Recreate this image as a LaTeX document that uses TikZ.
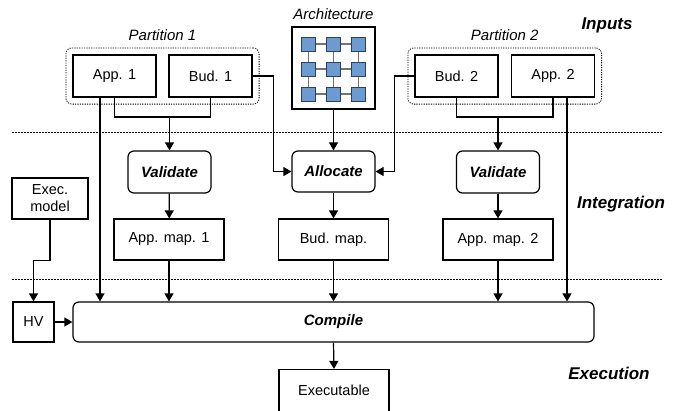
\documentclass[tikz,border=0pt]{standalone}
\usepackage{fontspec}
\setmainfont{Liberation Sans}
\usetikzlibrary{arrows.meta,positioning,fit}
\definecolor{coreblue}{RGB}{108,155,210}
\definecolor{coreedge}{RGB}{45,65,95}
\definecolor{linkgray}{RGB}{115,115,115}

\begin{document}
\begin{tikzpicture}[x=1pt,y=-1pt,
  font=\fontsize{14.5}{17}\selectfont,
  line width=1.2pt,
  box/.style={draw,minimum width=83pt,minimum height=42pt,inner sep=0pt},
  mapbox/.style={box,minimum width=110pt,minimum height=41pt},
  task/.style={box,rounded corners=6pt,font=\fontsize{15}{17}\selectfont\bfseries\itshape},
  part/.style={draw,dash pattern=on 1.2pt off 1.2pt,line width=0.8pt,rounded corners=6pt,inner sep=6.5pt},
  plabel/.style={font=\fontsize{15}{17}\selectfont\itshape,inner sep=2pt},
  phase/.style={font=\fontsize{17}{20}\selectfont\bfseries\itshape},
  sep/.style={line width=0.8pt,dash pattern=on 1.5pt off 1.5pt},
  arr/.style={-{Triangle[length=8pt,width=9pt]}},
  core/.style={draw=coreedge,fill=coreblue,line width=1pt,minimum size=14pt,inner sep=0pt},
  link/.style={draw=linkgray,line width=1.6pt}]
\useasboundingbox (0,0) rectangle (682,410);

% inputs
\node (app1) at (114.5,76) [box] {App. 1};
\node (bud1) at (210.5,76) [box] {Bud. 1};
\node (bud2) at (456.5,76) [box] {Bud. 2};
\node (app2) at (553,76) [box] {App. 2};
\node (part1) [part,fit=(app1)(bud1)] {};
\node (part2) [part,fit=(bud2)(app2)] {};
\node (plab1) [plabel,above=4pt of part1] {Partition 1};
\node (plab2) [plabel,above=4pt of part2] {Partition 2};
\node (arch) at (333.5,68) [box,minimum height=82pt] {};
\node (alab) [plabel,above=4pt of arch] {Architecture};
\foreach \i in {0,1,2} {
  \draw[link] (308.5,44+25*\i) -- (358.5,44+25*\i);
  \draw[link] (308.5+25*\i,44) -- (308.5+25*\i,94);
}
\foreach \i in {0,1,2}
  \foreach \j in {0,1,2}
    \node (c\i\j) at (308.5+25*\i,44+25*\j) [core] {};

% integration
\node (val1) at (169.5,172) [task] {Validate};
\node (alloc) at (333.5,171.5) [task,minimum height=41pt] {Allocate};
\node (val2) at (498,172) [task] {Validate};
\node (appmap1) at (169,239.5) [mapbox] {App. map. 1};
\node (budmap) at (333.5,239.5) [mapbox] {Bud. map.};
\node (appmap2) at (498,239.5) [mapbox] {App. map. 2};
\node (execm) at (50,198.5) [box,minimum width=76pt,minimum height=41pt,align=center] {Exec.\\model};

% execution
\node (hv) at (33.5,322) [box,minimum width=41pt,minimum height=40pt] {HV};
\node (compile) at (333.5,322) [task,minimum width=521pt,minimum height=40pt] {Compile};
\node (exe) at (334,390.5) [mapbox,minimum height=42pt] {Executable};

\node (inputs) at (607,25) [phase] {Inputs};
\node (integ) at (621,204) [phase] {Integration};
\node (execu) at (609,373) [phase] {Execution};

\draw[sep] (12,132) -- (663,132);
\draw[sep] (12,279) -- (663,279);

\coordinate (m1) at (169.5,117);
\coordinate (m2) at (498,117);
\draw (app1.south) |- (m1) -| (bud1.south);
\draw[arr] (m1) -- (val1.north);
\draw (bud2.south) |- (m2) -| (app2.south);
\draw[arr] (m2) -- (val2.north);
\draw[arr] (bud1.east) -- ++(21,0) |- (alloc.west);
\draw[arr] (bud2.west) -- ++(-20,0) |- (alloc.east);
\draw[arr] (arch.south) -- (alloc.north);
\draw[arr] (val1) -- (appmap1);
\draw[arr] (alloc) -- (budmap);
\draw[arr] (val2) -- (appmap2);
\draw[arr] ([xshift=-14.5pt]app1.south) -- ([xshift=-14.5pt]app1.south |- compile.north);
\draw[arr] ([xshift=14pt]app2.south) -- ([xshift=14pt]app2.south |- compile.north);
\draw[arr] (appmap1.south) -- (appmap1.south |- compile.north);
\draw[arr] (budmap.south) -- (budmap.south |- compile.north);
\draw[arr] (appmap2.south) -- (appmap2.south |- compile.north);
\draw[arr] (execm.south) -- ++(0,41) -| (hv.north);
\draw[arr] (hv) -- (compile);
\draw[arr] (compile.south) -- (exe.north);
\end{tikzpicture}
\end{document}
